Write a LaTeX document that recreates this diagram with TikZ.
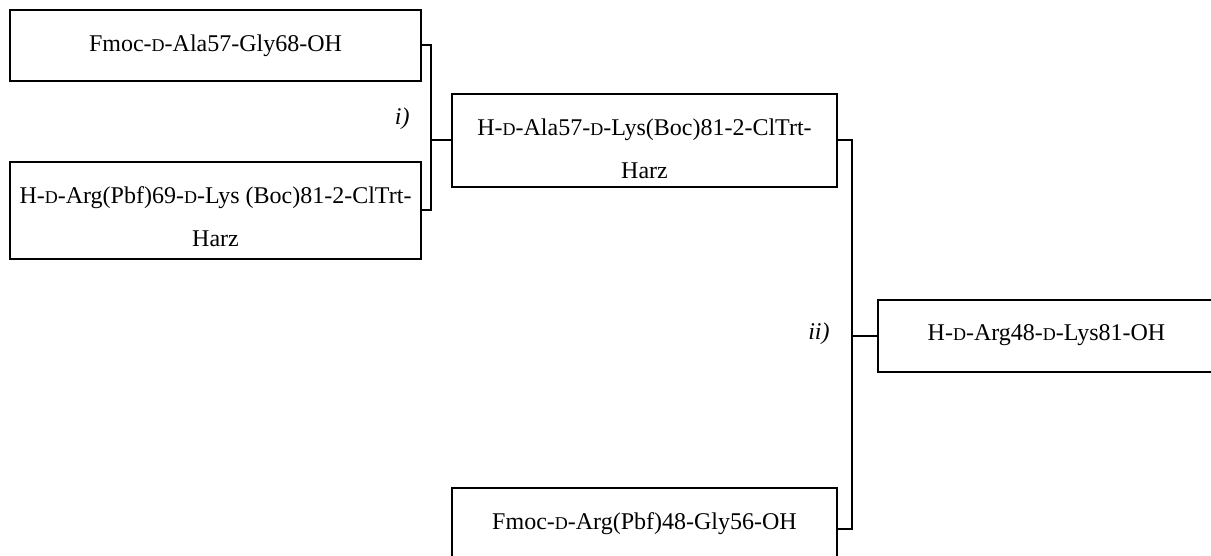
\documentclass[tikz,border=0pt]{standalone}
\usepackage{fontspec}
\setmainfont{Liberation Serif}
\usepackage{tikz}
\usetikzlibrary{positioning}

\newcommand{\Dsc}{{\fontsize{9}{9}\selectfont D}}

\begin{document}
\begin{tikzpicture}[
    x=0.5pt, y=-0.5pt,
    font=\fontsize{12}{21.5}\selectfont,
    box/.style={draw, line width=1pt, inner sep=0pt},
    lbl/.style={inner sep=0pt, align=center},
    cond/.style={inner sep=0pt, anchor=base east, font=\fontsize{12}{14}\selectfont\itshape},
    lnk/.style={line width=1pt}
]
\useasboundingbox (0,0) rectangle (1211,556);
\clip (0,0) rectangle (1211,556);

% boxes
\node[box, minimum width=205.5pt, minimum height=35.5pt] (b1) at (215.5,45.5) {};
\node[box, minimum width=205.5pt, minimum height=48.5pt] (b2) at (215.5,210.5) {};
\node[box, minimum width=192.5pt, minimum height=46.5pt] (b3) at (644.5,140.5) {};
\node[box, minimum width=168.5pt, minimum height=36pt] (b4) at (1046.5,336) {};
\node[box, minimum width=192.5pt, minimum height=41pt] (b5) at (644.5,529) {};

% texts
\node[lbl, below=12.5pt of b1.north] (t1) {Fmoc-\Dsc-Ala57-Gly68-OH};
\node[lbl, below=12.5pt of b2.north] (t2) {H-\Dsc-Arg(Pbf)69-\Dsc-Lys (Boc)81-2-ClTrt-\\Harz};
\node[lbl, below=12.5pt of b3.north] (t3) {H-\Dsc-Ala57-\Dsc-Lys(Boc)81-2-ClTrt-\\Harz};
\node[lbl, below=12.5pt of b4.north] (t4) {H-\Dsc-Arg48-\Dsc-Lys81-OH};
\node[lbl, below=12.5pt of b5.north] (t5) {Fmoc-\Dsc-Arg(Pbf)48-Gly56-OH};

% brackets
\coordinate (j1) at ([xshift=-10pt]b3.west);
\coordinate (j2) at ([xshift=-12.5pt]b4.west);
\draw[lnk] (b1.east) -| (j1) |- (b2.east);
\draw[lnk] (j1) -- (b3.west);
\draw[lnk] (b3.east) -| (j2) |- (b5.east);
\draw[lnk] (j2) -- (b4.west);

\node[cond] (c1) at (410,125) {i)};
\node[cond] (c2) at (830,339) {ii)};
\end{tikzpicture}
\end{document}
